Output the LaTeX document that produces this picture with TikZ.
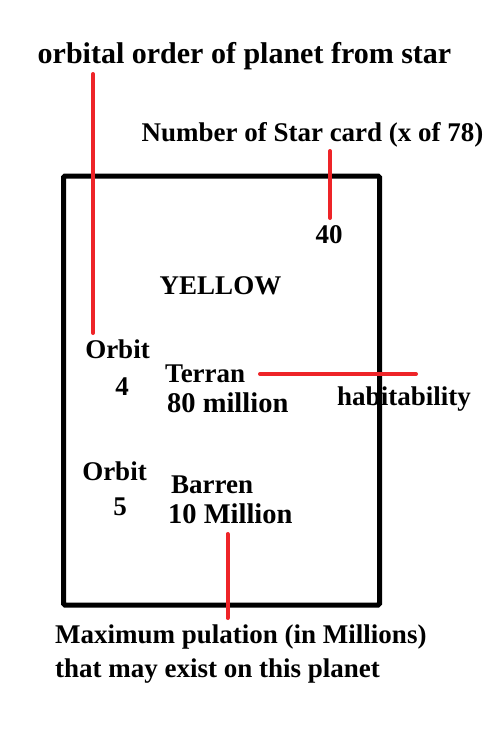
\documentclass[tikz,border=0pt]{standalone}
\usepackage{fontspec}
\setmainfont{Liberation Serif}
\definecolor{annot}{RGB}{238,36,40}
\begin{document}
\begin{tikzpicture}[x=1pt,y=-1pt,
  lbl/.style={inner sep=0pt,font=\fontsize{27}{30}\selectfont\bfseries},
  biglbl/.style={inner sep=0pt,font=\fontsize{28.5}{32}\selectfont\bfseries},
  cardbox/.style={draw=black,line width=5pt,rounded corners=1.5pt},
  redline/.style={draw=annot,line width=4pt,line cap=round}]
\useasboundingbox (0,0) rectangle (500,737);
% card
\draw[cardbox] (63.5,176) rectangle (379.5,605);
% texts
\node[lbl,anchor=base,font=\fontsize{30}{34}\selectfont\bfseries] (title) at (244.5,63) {orbital order of planet from star};
\node[lbl,anchor=base] (number) at (312.5,141) {Number of Star card (x of 78)};
\node[lbl,anchor=base] (forty) at (329,243) {40};
\node[lbl,anchor=base] (yellow) at (220.5,294) {YELLOW};
\node[lbl,anchor=base] (orbitA) at (117.5,358) {Orbit};
\node[lbl,anchor=base] (four) at (122,395) {4};
\node[lbl,anchor=base west] (terran) at (165,382) {Terran};
\node[biglbl,anchor=base west] (eighty) at (167,412) {80 million};
\node[lbl,anchor=base] (habit) at (404,405) {habitability};
\node[lbl,anchor=base] (orbitB) at (114.5,480) {Orbit};
\node[lbl,anchor=base] (five) at (120,515) {5};
\node[lbl,anchor=base west] (barren) at (171,493) {Barren};
\node[biglbl,anchor=base west] (ten) at (168,523) {10 Million};
\node[lbl,anchor=base west] (maxA) at (55,643) {Maximum pulation (in Millions)};
\node[lbl,anchor=base west] (maxB) at (55,677) {that may exist on this planet};
% connector end points
\coordinate (t1) at (93,74);
\coordinate (t2) at (93,333);
\coordinate (n1) at (330,151);
\coordinate (n2) at (330,218);
\coordinate (h1) at (260,374);
\coordinate (h2) at (416,374);
\coordinate (p1) at (227.5,534);
\coordinate (p2) at (227.5,618);
\draw[redline] (t1) -- (t2);
\draw[redline] (n1) -- (n2);
\draw[redline] (h1) -- (h2);
\draw[redline] (p1) -- (p2);
\end{tikzpicture}
\end{document}
